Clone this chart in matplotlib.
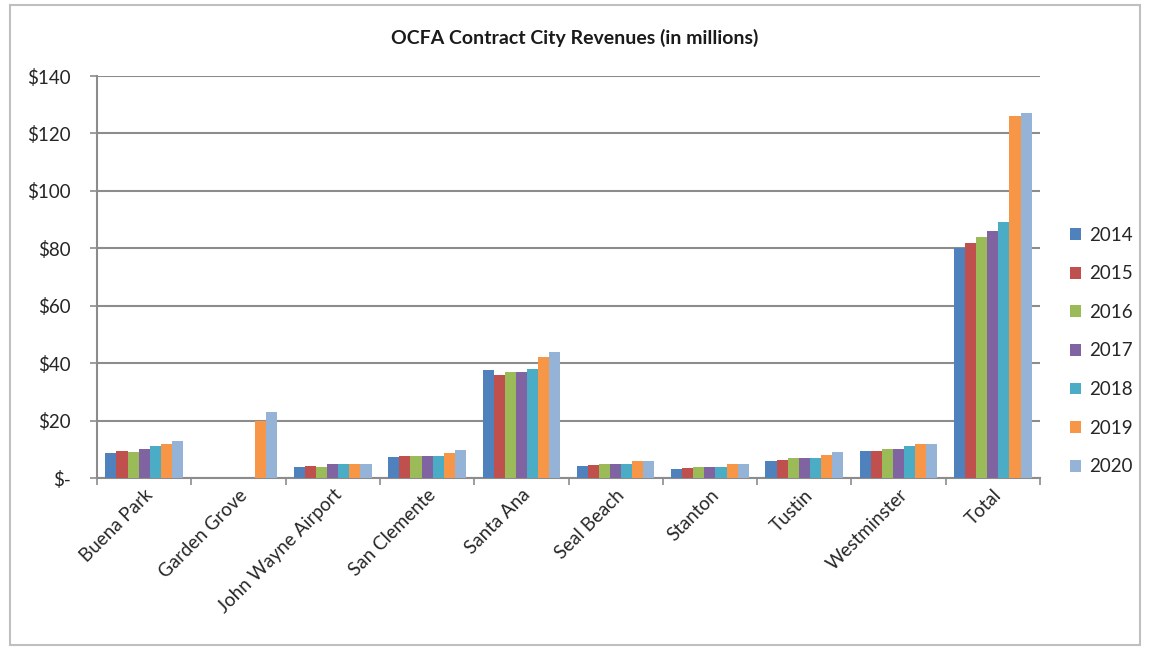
import matplotlib
matplotlib.use("Agg")
import matplotlib.pyplot as plt
import numpy as np
from matplotlib.patches import Rectangle

plt.rcParams['font.family'] = ['Lato', 'DejaVu Sans']

cities = ["Buena Park", "Garden Grove", "John Wayne Airport", "San Clemente",
          "Santa Ana", "Seal Beach", "Stanton", "Tustin", "Westminster", "Total"]
years = ["2014", "2015", "2016", "2017", "2018", "2019", "2020"]

rev_2014 = [8.8, 0, 3.7, 7.3, 37.6, 4.2, 3.2, 5.8, 9.5, 80]
rev_2015 = [9.5, 0, 4.2, 7.7, 35.9, 4.4, 3.5, 6.4, 9.5, 82]
rev_2016 = [9.0, 0, 3.7, 7.7, 37.0, 4.9, 3.8, 7.0, 10.0, 84]
rev_2017 = [10.0, 0, 5.0, 7.7, 37.0, 4.9, 3.8, 7.0, 10.0, 86]
rev_2018 = [11.0, 0, 5.0, 7.7, 37.8, 4.9, 3.8, 7.0, 11.0, 89]
rev_2019 = [12.0, 20.0, 5.0, 8.8, 42.0, 5.9, 5.0, 7.9, 12.0, 126]
rev_2020 = [13.0, 23.0, 5.0, 9.8, 44.0, 5.8, 5.0, 9.1, 12.0, 127]

series = [rev_2014, rev_2015, rev_2016, rev_2017, rev_2018, rev_2019, rev_2020]
colors = ["#4F81BD", "#C0504D", "#9BBB59", "#8064A2", "#4BACC6", "#F79646", "#95B3D7"]

W, H = 1149, 650
fig = plt.figure(figsize=(W / 100, H / 100), dpi=100)

# outer chart frame
fig.patches.append(Rectangle((10 / W, 5 / H), 1130 / W, 640 / H, transform=fig.transFigure,
                             fill=False, edgecolor="#BFBFBF", linewidth=1.5))

left, right, top, bottom = 97, 1040, 76, 478
ax = fig.add_axes([left / W, 1 - bottom / H, (right - left) / W, (bottom - top) / H])

n = len(series)
bar_w = 1.0 / (n + 1.5)
x = np.arange(len(cities))
for i, (vals, c, yr) in enumerate(zip(series, colors, years)):
    offs = (i - (n - 1) / 2) * bar_w
    ax.bar(x + offs, vals, width=bar_w, color=c, label=yr, zorder=3, linewidth=0)

ax.set_xlim(-0.5, len(cities) - 0.5)
ax.set_ylim(0, 140)
yt = np.arange(0, 141, 20)
ax.set_yticks(yt)
ax.set_yticklabels(["$-"] + [f"${v}" for v in yt[1:]], fontsize=13.5, color="#262626")
ax.yaxis.grid(True, color="#8C8C8C", linewidth=1.5, zorder=0)
ax.set_axisbelow(True)

ax.set_xticks(x)
ax.set_xticklabels(cities, rotation=45, ha="right", rotation_mode="anchor",
                   fontsize=13.5, color="#262626")
ax.set_xticks(np.arange(-0.5, len(cities), 1.0), minor=True)
ax.tick_params(axis="x", which="major", length=0, pad=6)
ax.tick_params(axis="x", which="minor", length=5, color="#8C8C8C", width=1.2)
ax.tick_params(axis="y", length=5, color="#8C8C8C", width=1.2, pad=14)

for s in ["top", "right"]:
    ax.spines[s].set_visible(False)
for s in ["left", "bottom"]:
    ax.spines[s].set_color("#8C8C8C")
    ax.spines[s].set_linewidth(1.5)

fig.text(0.5, 1 - 38 / H, "OCFA Contract City Revenues (in millions)",
         ha="center", va="center", fontsize=14, fontweight="bold", color="#1a1a1a")

leg = fig.legend(loc="center left", bbox_to_anchor=(1053 / W, 1 - 351 / H),
                 frameon=False, fontsize=13.5, handlelength=0.6, handleheight=0.6,
                 handletextpad=0.4, labelspacing=1.15, labelcolor="#262626")

fig.savefig("out.png", dpi=100)
